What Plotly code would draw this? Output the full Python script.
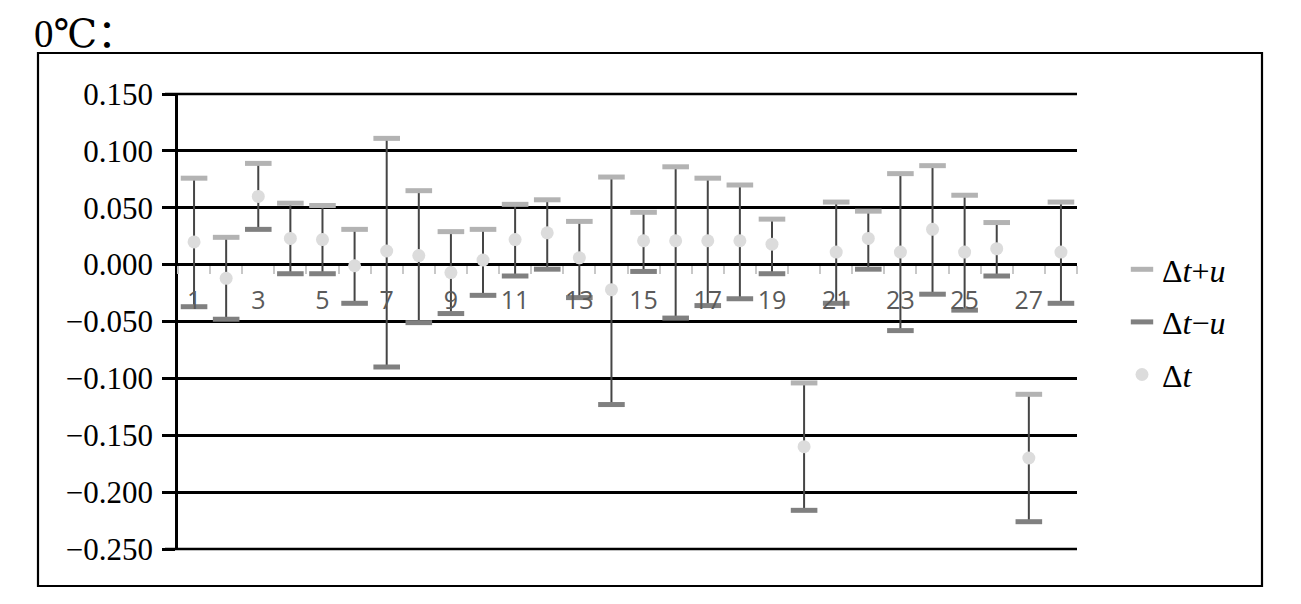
import plotly.graph_objects as go

categories = list(range(1, 29))
upper = [0.076, 0.024, 0.089, 0.054, 0.052, 0.031, 0.111, 0.065, 0.029, 0.031,
         0.053, 0.057, 0.038, 0.077, 0.046, 0.086, 0.076, 0.070, 0.040, -0.104,
         0.055, 0.047, 0.080, 0.087, 0.061, 0.037, -0.114, 0.055]
delta = [0.020, -0.012, 0.060, 0.023, 0.022, -0.001, 0.012, 0.008, -0.007, 0.004,
         0.022, 0.028, 0.006, -0.022, 0.021, 0.021, 0.021, 0.021, 0.018, -0.160,
         0.011, 0.023, 0.011, 0.031, 0.011, 0.014, -0.170, 0.011]
lower = [-0.037, -0.048, 0.031, -0.008, -0.008, -0.034, -0.090, -0.051, -0.043, -0.027,
         -0.010, -0.004, -0.029, -0.123, -0.006, -0.047, -0.036, -0.030, -0.008, -0.216,
         -0.034, -0.004, -0.058, -0.026, -0.040, -0.010, -0.226, -0.034]
tick_labels = [str(c) for c in categories if c % 2 == 1]
tick_vals = [c for c in categories if c % 2 == 1]
y_min, y_max = -0.25, 0.15

# vertical high-low lines
lx, ly = [], []
for c, lo, hi in zip(categories, lower, upper):
    lx += [c, c, None]
    ly += [lo, hi, None]

fig = go.Figure()
fig.add_trace(go.Scatter(x=lx, y=ly, mode="lines", line=dict(color="#454545", width=2),
                         showlegend=False, hoverinfo="skip"))
fig.add_trace(go.Scatter(x=categories, y=upper, mode="markers", name="Δ<i>t</i>+<i>u</i>",
                         legendgroup="a",
                         marker=dict(symbol="line-ew", size=19,
                                     line=dict(color="#b3b3b3", width=5))))
fig.add_trace(go.Scatter(x=categories, y=lower, mode="markers", name="Δ<i>t</i>−<i>u</i>",
                         legendgroup="b",
                         marker=dict(symbol="line-ew", size=19,
                                     line=dict(color="#808080", width=5))))
fig.add_trace(go.Scatter(x=categories, y=delta, mode="markers", name="Δ<i>t</i>",
                         legendgroup="c",
                         marker=dict(symbol="circle", size=13, color="#dcdcdc",
                                     line=dict(width=0))))

OFF = 8  # page body margin
W, H = 1301 - OFF, 604 - OFF
L, R, T, B = 178 - OFF, 1077 - OFF, 94 - OFF, 549 - OFF
pw, ph = R - L, B - T

def px(x):
    return (x - OFF - L) / pw

def py(y):
    return (B - (y - OFF)) / ph

SERIF = "Liberation Serif, DejaVu Serif, serif"

fig.update_layout(
    width=W, height=H,
    margin=dict(l=L, r=W - R, t=T, b=H - B),
    paper_bgcolor="white", plot_bgcolor="white",
    font=dict(family=SERIF, color="black"),
    showlegend=True,
    legend=dict(x=px(1122), y=py(242), xanchor="left", yanchor="top",
                font=dict(family=SERIF, size=32, color="black"),
                tracegroupgap=8, traceorder="grouped", bgcolor="rgba(0,0,0,0)"),
    xaxis=dict(range=[0.5, 28.5], anchor="free", position=(0 - y_min) / (y_max - y_min),
               showgrid=False, zeroline=False, showline=False,
               tickmode="array", tickvals=tick_vals, ticktext=tick_labels,
               ticks="outside", ticklen=0, ticklabelstandoff=13,
               tickfont=dict(family="Open Sans", size=25, color="#5a5a5a"),
               minor=dict(tickmode="linear", tick0=0.5, dtick=1, ticks="outside",
                          ticklen=8, tickwidth=1.5, tickcolor="#c8c8c8", showgrid=False)),
    yaxis=dict(range=[y_min, y_max], tickmode="linear", tick0=0, dtick=0.05,
               tickformat=".3f", showgrid=True, gridcolor="black", gridwidth=2.5,
               zeroline=True, zerolinecolor="black", zerolinewidth=2.5,
               showline=True, linecolor="black", linewidth=2.5,
               ticks="outside", ticklen=13, tickwidth=2.5, tickcolor="black",
               ticklabelstandoff=3,
               tickfont=dict(family=SERIF, size=31, color="black")),
)

# top and bottom gridlines (edges of the value range, paper-referenced so not clipped)
for yv in (0, 1):
    fig.add_shape(type="line", xref="paper", yref="paper", x0=px(165), x1=1, y0=yv, y1=yv,
                  line=dict(color="black", width=2.5))

fig.add_shape(type="rect", xref="paper", yref="paper",
              x0=px(38), x1=px(1262), y0=py(586), y1=py(53),
              line=dict(color="black", width=2.2), fillcolor="rgba(0,0,0,0)", layer="below")

fig.add_annotation(text="0℃：", xref="paper", yref="paper", x=px(32), y=py(33),
                   xanchor="left", yanchor="middle", showarrow=False,
                   font=dict(family="Liberation Serif, DejaVu Serif, Noto Sans CJK SC",
                             size=39, color="black"))

fig.write_html("out.html")
